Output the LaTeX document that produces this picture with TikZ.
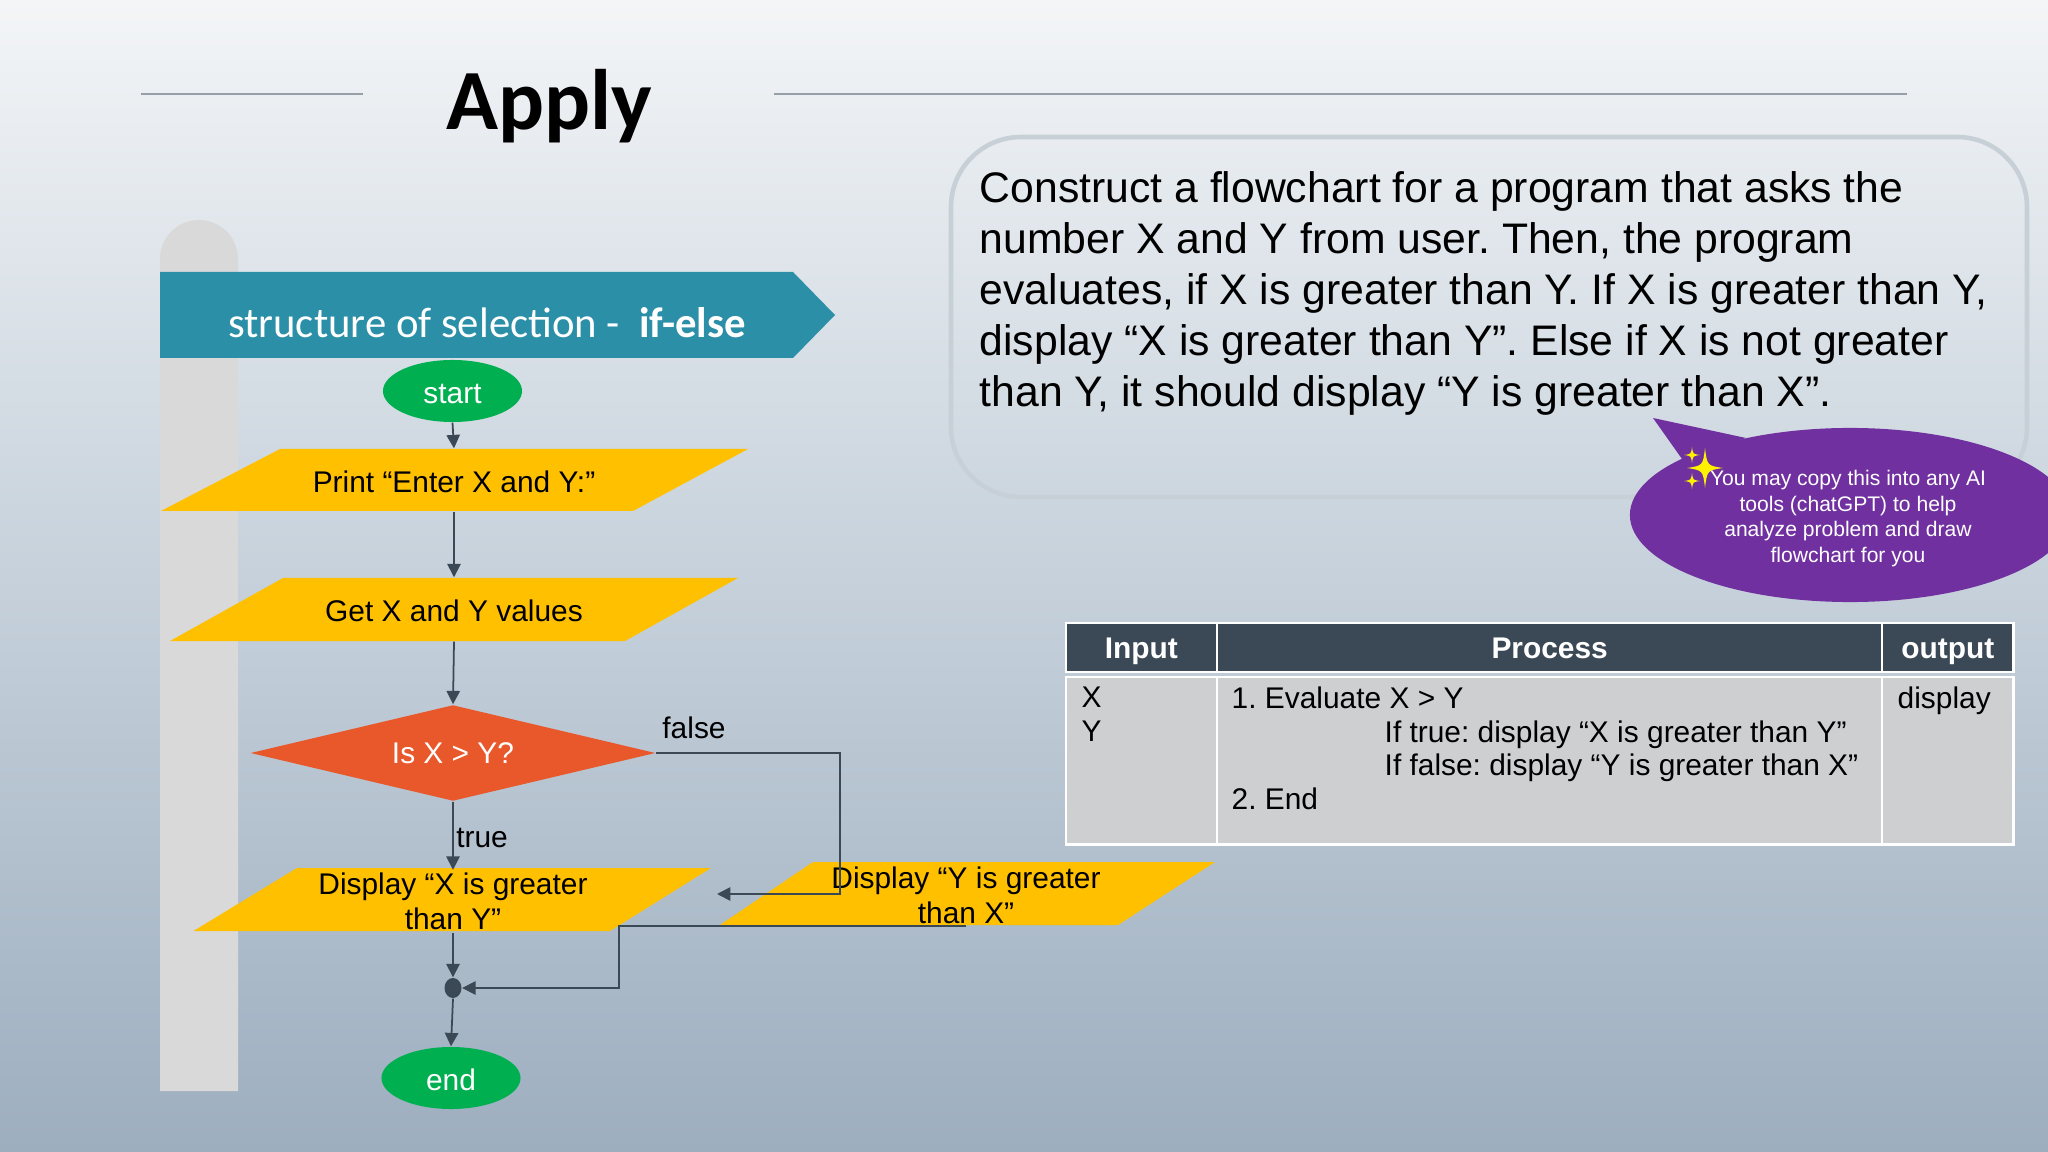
\documentclass[tikz,border=0pt]{standalone}
\usepackage{fontspec}
\setmainfont{Liberation Sans}
\newfontfamily\calfont{Carlito}
\usetikzlibrary{shapes.geometric,         % losange, ellipse
           arrows.meta}                   % pointes de fleches
\definecolor{fondhaut}{RGB}{243,245,247}
\definecolor{fondmil}{RGB}{198,209,219}
\definecolor{fondbas}{RGB}{157,174,191}
\definecolor{bandeau}{RGB}{43,143,168}
\definecolor{sortie}{RGB}{255,192,0}
\definecolor{vert}{RGB}{0,176,80}
\definecolor{orange}{RGB}{233,88,43}
\definecolor{violet}{RGB}{112,48,160}
\definecolor{ardoise}{RGB}{59,72,86}
\definecolor{cellule}{RGB}{205,207,209}
\definecolor{filet}{RGB}{150,160,168}
\definecolor{cadre}{RGB}{200,208,215}
\tikzset{
flowfont/.style={font=\fontsize{8.5}{10}\selectfont},
oneline/.style={text height=7.2pt,text depth=0.2pt},
termnode/.style={ellipse,fill=vert,text=white,inner sep=0pt,minimum width=1.39cm,minimum height=0.62cm,flowfont,oneline},
ionode/.style={rectangle,inner sep=0pt,minimum height=0.62cm,align=center,flowfont},
testnode/.style={diamond,aspect=4.2,fill=orange,text=white,inner sep=0pt,minimum width=4.05cm,minimum height=0.96cm,flowfont,text height=6.5pt,text depth=0.5pt},
tagnode/.style={inner sep=0pt,flowfont},
headcell/.style={rectangle,anchor=north west,fill=ardoise,draw=white,line width=0.7pt,text=white,inner sep=0pt,minimum height=0.49cm,font=\bfseries\fontsize{8.5}{10}\selectfont,text height=6.3pt,text depth=0.3pt},
bodycell/.style={rectangle,anchor=north west,fill=cellule,draw=white,line width=0.7pt,inner sep=0pt,minimum height=1.67cm},
celltext/.style={anchor=north west,inner sep=0pt,align=left,font=\fontsize{8.5}{9.6}\selectfont},
flowline/.style={draw=ardoise,line width=0.5pt,-{Triangle[length=3.8pt,width=3.8pt]}}
}
\begin{document}
\frenchspacing
\begin{tikzpicture}[x=0.01cm,y=-0.01cm]
\useasboundingbox(0,0)rectangle(2048,1152);
\shade[top color=fondhaut,bottom color=fondbas,middle color=fondmil](0,0)rectangle(2048,1152);
\draw[filet,line width=0.4pt](141,94)--(363,94);
\draw[filet,line width=0.4pt](774,94)--(1907,94);
\node[font=\calfont\bfseries\fontsize{24.4}{30}\selectfont,inner sep=0pt] (title) at (549,106) {Apply};
\draw[draw=cadre,line width=1.3pt,rounded corners=0.7cm](951,137)rectangle(2027,497);
\node[anchor=north west,inner sep=0pt,align=left,font=\fontsize{12.15}{14.5}\selectfont] (task) at (979,171) {Construct a flowchart for a program that asks the\\number X and Y from user. Then, the program\\evaluates, if X is greater than Y. If X is greater than Y,\\display “X is greater than Y”. Else if X is not greater\\than Y, it should display “Y is greater than X”.};
\fill[black!15](160,1091)[rounded corners=0.39cm]--(160,220)--(238,220)[sharp corners]--(238,1091)--cycle;
\fill[bandeau](160,272)--(793,272)--(835,315)--(793,358)--(160,358)--cycle;
\node[font=\calfont\fontsize{12.15}{14}\selectfont,text=white,inner sep=0pt] (banner) at (487,323) {structure of selection -\ \ \textbf{if-else}};
\foreach \xa/\xb/\xc/\xd/\ya/\yb in {161/280/748/633/449/511,170/283/738/625/578/641,193.5/297/711/610/868/931,720/813/1215/1118/862/925}
\fill[sortie](\xa,\yb)--(\xb,\ya)--(\xc,\ya)--(\xd,\yb)--cycle;
\node[termnode] (start) at (452.5,391) {start};
\node[ionode,oneline] (print) at (454,480) {Print “Enter X and Y:”};
\node[ionode,oneline,minimum height=0.63cm] (read) at (454,609.5) {Get X and Y values};
\node[testnode] (test) at (453,753) {Is X > Y?};
\node[ionode,inner ysep=-0.15pt] (dispx) at (453,901.5) {Display “X is greater\\than Y”};
\node[ionode,minimum height=0.59cm,inner ysep=-1.4pt] (dispy) at (966,895.5) {Display “Y is greater\\than X”};
\node[ellipse,fill=ardoise,inner sep=0pt,minimum width=0.17cm,minimum height=0.2cm] (dot) at (453,988) {};
\node[termnode] (end) at (451,1078) {end};
\node[tagnode] (false) at (694,728) {false};
\node[tagnode] (true) at (482,838) {true};
\coordinate (turn) at (840,894);
\coordinate (falseend) at (717,894);
\coordinate (join) at (619,988);
\draw[flowline](start.south)--(print.north);
\draw[flowline](print.south)--(read.north);
\draw[flowline](read.south)--(test.north);
\draw[flowline](test.south)--(dispx.north);
\draw[flowline](dispx.south)--(dot.north);
\draw[flowline](dot.south)--(end.north);
\draw[flowline](test.east)-|(turn)--(falseend);
\draw[flowline](dispy.south)-|(join)--(dot.east);
\node[headcell,minimum width=1.51cm] (headin) at (1064.5,622) {Input};
\node[headcell,minimum width=6.655cm] (headproc) at (1215.5,622) {Process};
\node[headcell,minimum width=1.31cm] (headout) at (1881,622) {output};
\node[bodycell,minimum width=1.51cm] (bodyin) at (1064.5,676) {};
\node[bodycell,minimum width=6.655cm] (bodyproc) at (1215.5,676) {};
\node[bodycell,minimum width=1.31cm] (bodyout) at (1881,676) {};
\node[celltext] (intext) at (1081,686) {X\\Y};
\node[celltext] (proctext) at (1231,686) {1. Evaluate X > Y\\\hspace*{43.5pt}If true: display “X is greater than Y”\\\hspace*{43.5pt}If false: display “Y is greater than X”\\2. End};
\node[celltext] (outtext) at (1897,686) {display};
\fill[violet](1850,515)ellipse[x radius=2.2cm,y radius=0.87cm];
\fill[violet](1653,418)--(1746,438)--(1682,459)--cycle;
\foreach \cx/\cy/\rx/\ry in {1705/468/18/20,1692/455/8/8,1692/481/8/8}
\fill[yellow](\cx,\cy-\ry)..controls(\cx+0.12*\rx,\cy-0.12*\ry)..(\cx+\rx,\cy)..controls(\cx+0.12*\rx,\cy+0.12*\ry)..(\cx,\cy+\ry)..controls(\cx-0.12*\rx,\cy+0.12*\ry)..(\cx-\rx,\cy)..controls(\cx-0.12*\rx,\cy-0.12*\ry)..cycle;
\node[text=white,inner sep=0pt,align=center,font=\fontsize{6}{7.25}\selectfont] (note) at (1848,518.5) {You may copy this into any AI\\tools (chatGPT) to help\\analyze problem and draw\\flowchart for you};
\end{tikzpicture}
\end{document}
